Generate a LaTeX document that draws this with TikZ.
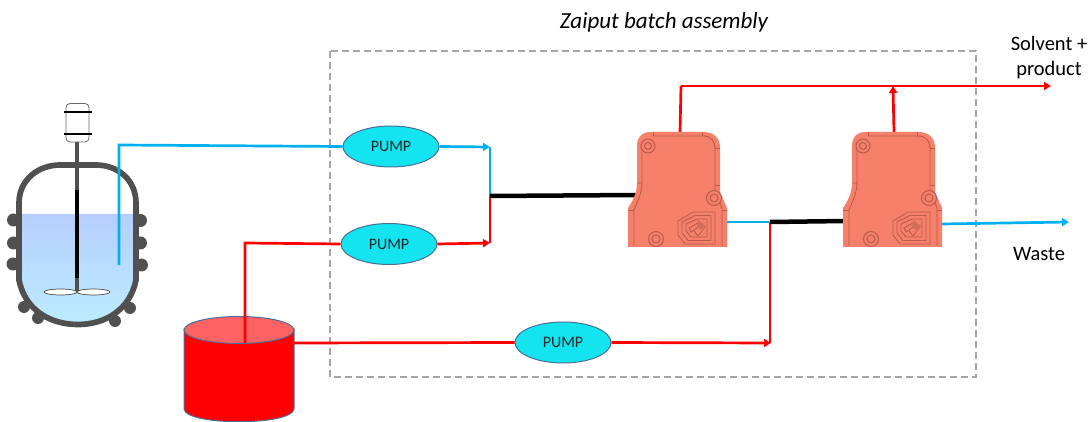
\documentclass[tikz,border=0pt]{standalone}
\usepackage{fontspec}
\setmainfont{Carlito}
\usetikzlibrary{arrows.meta,shapes.geometric}
\definecolor{flowblue}{RGB}{0,176,240}
\definecolor{pumpfill}{RGB}{20,228,240}
\definecolor{pumpedge}{RGB}{75,110,150}
\definecolor{salmon}{RGB}{246,128,106}
\definecolor{salmonedge}{RGB}{185,92,76}
\definecolor{vessel}{RGB}{80,80,80}
\tikzset{
  x=1pt,y=-1pt,
  pumpnode/.style={ellipse,draw=pumpedge,line width=1pt,fill=pumpfill,minimum width=96pt,minimum height=41pt,inner sep=0pt,font=\fontsize{16}{18}\selectfont,text=black!85},
  blueflow/.style={draw=flowblue,line width=2.7pt},
  redflow/.style={draw=red,line width=2.7pt},
  blackflow/.style={draw=black,line width=4.5pt},
  tip/.style={-{Triangle[length=7pt,width=8pt]}},
  label/.style={font=\fontsize{20.5}{24.5}\selectfont,text=black,align=center,inner sep=0pt},
  sepline/.style={draw=salmonedge,line width=0.9pt},
  bolt/.style={draw=salmonedge,line width=1pt,fill=salmon},
  sepshape/.pic={
    \fill[salmon] (637,146) .. controls (637,137) and (642,132) .. (651,132) -- (703,132)
      .. controls (714,132) and (720,138) .. (720,148) -- (720,192) -- (727,208) -- (727,247) -- (628,247) -- (628,208)
      .. controls (632,202) and (637,194) .. (637,183) -- cycle;
    \draw[sepline] (652,136) -- (703,136) .. controls (711,136) and (715,141) .. (715,149) -- (715,190) -- (722,208) -- (722,246);
    \draw[sepline] (637,183) -- (642,183) (642,150) -- (642,183) .. controls (642,194) and (636,204) .. (634,210) -- (634,246);
    \draw[sepline] (653,132) -- (653,136) (702,132) -- (702,136) (715,148) -- (720,148) (715,185) -- (720,185) (628,210) -- (634,210) (722,210) -- (727,210);
    \draw[bolt] (648,146) circle (7pt);
    \draw[bolt] (648,146) circle (3.5pt);
    \draw[bolt] (714,198) circle (7.5pt);
    \draw[bolt] (714,198) circle (4pt);
    \draw[bolt] (656,239) circle (7.5pt);
    \draw[bolt] (656,239) circle (4pt);
    \draw[sepline] (678,221) -- (693,212) -- (715,212) -- (715,244) -- (685,244) -- (678,235) -- cycle;
    \draw[sepline] (682,222) -- (695,215.5) -- (711,215.5) -- (711,240.5) -- (688,240.5) -- (682,233) -- cycle;
    \draw[sepline] (686,224) -- (697,219) -- (707,219) -- (707,237) -- (691,237) -- (686,231) -- cycle;
    \draw[sepline] (689,228) -- (698,223) -- (700,226) -- (691,232) -- cycle;
    \fill[salmonedge!55!salmon] (698,220) -- (706,226) -- (703,231) -- (697,227) -- cycle;
    \draw[sepline] (702,231) -- (698,236) -- (694,231);
  },
}
\begin{document}
\begin{tikzpicture}
\useasboundingbox (0,0) rectangle (1088,422);
% dashed assembly frame
\draw[draw=black!35,line width=1.5pt,dash pattern=on 7pt off 4pt] (330,51) rectangle (976,377);
\node[label,font=\fontsize{23}{26}\selectfont\itshape] (title) at (664,22) {Zaiput batch assembly};
\node[label] (solvent) at (1049,57.5) {Solvent +\\product};
\node[label] (waste) at (1039,254) {Waste};

% reactor
\fill[vessel] (13.5,220) circle (6.5pt) (13.5,243) circle (6.5pt) (13,264) circle (6.5pt)
  (140.5,220.5) circle (6.5pt) (140.5,243) circle (6.5pt) (141.5,265) circle (6.5pt)
  (24,307) circle (6pt) (38,318) circle (6pt) (130,308) circle (6pt) (115,321) circle (6pt);
\shade[top color={rgb,255:red,182;green,206;blue,255},bottom color={rgb,255:red,188;green,236;blue,255}]
  (19,214) -- (136,214) -- (136,280) .. controls (130,310) and (105,324) .. (78,324) .. controls (50,324) and (25,310) .. (19,280) -- cycle;
\draw[vessel,line width=5.7pt,fill=none]
  (19,203) .. controls (19,180) and (38,165) .. (60,165) -- (96,165)
  .. controls (118,165) and (136,180) .. (136,203)
  -- (136,280) .. controls (130,310) and (105,324.5) .. (78,324.5)
  .. controls (50,324.5) and (25,310) .. (19,280) -- cycle;
\draw[black,line width=4.7pt] (77,190) -- (77,278);
\draw[vessel,line width=4.7pt] (77,142) -- (77,190) (77,278) -- (77,293);
\draw[black!60,line width=0.8pt,fill=white,rounded corners=4pt] (66,103.5) rectangle (89,142);
\draw[black,line width=2.2pt] (63.5,112) -- (91.5,112) (63.5,134) -- (91.5,134);
\draw[black!70,line width=0.7pt,fill=white] (60.5,292) ellipse (16.5pt and 3pt) (93.5,292) ellipse (16.5pt and 3pt);

% tank
\fill[red,draw=pumpedge,line width=1pt] (184,329) -- (184,409) .. controls (186,426) and (292,426) .. (294,409) -- (294,329) -- cycle;
\draw[fill={rgb,255:red,255;green,98;blue,98},draw=pumpedge,line width=1pt] (239,330) ellipse (55pt and 13.5pt);

% junctions and separators
\coordinate (tankout) at (294,343);
\coordinate (tanktop) at (245,343);
\coordinate (dipend) at (119,265);
\coordinate (dipbend) at (119,145);
\coordinate (feedbend) at (245,243);
\coordinate (mixa) at (490,196);
\coordinate (mixb) at (770,222);
\coordinate (sepaL) at (637,195);
\coordinate (sepaR) at (727,222);
\coordinate (sepaT) at (680,132);
\coordinate (sepbL) at (845,221);
\coordinate (sepbR) at (942,224);
\coordinate (sepbT) at (894,132);
\coordinate (prodbend) at (681,86);
\coordinate (prodjoin) at (893,86);
\coordinate (prodend) at (1051,86);
\coordinate (wasteend) at (1069,222);

\node[pumpnode] (p1) at (391,146.5) {PUMP};
\node[pumpnode] (p2) at (389,244) {PUMP};
\node[pumpnode] (p3) at (563,342.5) {PUMP};

\draw[blueflow,line join=miter] (dipend) -- (dipbend) -- (p1.west);
\draw[redflow,line join=miter] (tanktop) -- (feedbend) -- (p2.west);
\draw[redflow] (tankout) -- (p3.west);
\draw[blueflow] (490,147) -- (mixa);
\draw[redflow] (490,243) -- (mixa);
\draw[blueflow,tip] (p1.east) -- (490,147);
\draw[redflow,tip] (p2.east) -- (490,243);
\draw[redflow] (770,343) -- (mixb);
\draw[redflow,tip] (p3.east) -- (771,343);
\draw[blueflow] (sepaR) -- (mixb);
\draw[blackflow] (mixa) -- (sepaL);
\draw[blackflow] (mixb) -- (sepbL);
\draw[redflow] (sepaT) -- (prodbend);
\draw[redflow,tip] (prodbend) -- (prodend);
\draw[redflow,tip] (sepbT) -- (prodjoin);
\draw[blueflow,tip] (sepbR) -- (wasteend);

\pic at (0,0) {sepshape};
\pic at (215,0) {sepshape};
\end{tikzpicture}
\end{document}
